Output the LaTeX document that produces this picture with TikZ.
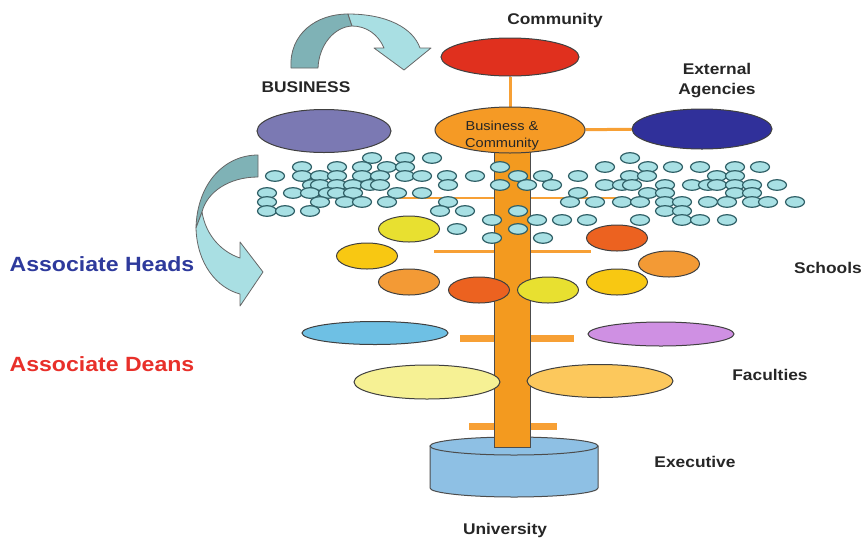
\documentclass[tikz,border=0pt]{standalone}
\usepackage{fontspec}
\setmainfont{Liberation Sans}[FakeStretch=1.12]
\usetikzlibrary{shapes.geometric,backgrounds}

\definecolor{commred}{HTML}{E0301E}
\definecolor{bcorange}{HTML}{F59A25}
\definecolor{extblue}{HTML}{30309A}
\definecolor{bizpurple}{HTML}{7B79B3}
\definecolor{trunkor}{HTML}{F39A1F}
\definecolor{branch}{HTML}{F7A035}
\definecolor{univblue}{HTML}{8EC0E4}
\definecolor{budcyan}{HTML}{A8E0E4}
\definecolor{budedge}{HTML}{2F5F66}
\definecolor{arrdark}{HTML}{7FB2B6}
\definecolor{arrlight}{HTML}{A9DFE3}
\definecolor{facblue}{HTML}{6EC0E4}
\definecolor{facpurple}{HTML}{CF90E3}
\definecolor{facyellow}{HTML}{F6F194}
\definecolor{facorange}{HTML}{FCC85C}
\definecolor{schyellow}{HTML}{E8E030}
\definecolor{schgold}{HTML}{F8C812}
\definecolor{schorange}{HTML}{F39A35}
\definecolor{schred}{HTML}{EC6220}
\definecolor{headblue}{HTML}{2E3A9C}
\definecolor{deanred}{HTML}{E8302A}

\tikzset{
  blob/.style={ellipse, draw=black!75, line width=1pt, inner sep=0pt},
  school/.style={blob, minimum width=61pt, minimum height=26pt},
  faculty/.style={blob, minimum width=146pt},
  bud/.style={fill=budcyan, draw=budedge, line width=1.2pt},
  twig/.style={draw=branch, line width=#1},
  ribbon/.style={draw=black!60, line width=0.8pt, line join=round},
  lbl/.style={font=\bfseries\fontsize{15.5}{20}\selectfont, text=black!85, inner sep=0pt},
  role/.style={font=\bfseries\fontsize{20.6}{24}\selectfont, inner sep=0pt},
}

\begin{document}
\begin{tikzpicture}[x=1pt,y=-1pt]
  \useasboundingbox (0,0) rectangle (865,539);

  % university base
  \draw[fill=univblue, draw=black!70, line width=1pt] (430,446) -- (430,488)
    .. controls (430,493) and (468,497) .. (514,497)
    .. controls (560,497) and (598,493) .. (598,488) -- (598,446) -- cycle;
  \draw[fill=univblue, draw=black!70, line width=1pt] (514,446) ellipse[x radius=84, y radius=9];

  % trunk
  \node[fill=trunkor, draw=black!70, line width=1pt, inner sep=0pt,
        minimum width=36pt, minimum height=297pt] (trunk) at (512,298.5) {};

  % top level
  \node[blob, fill=commred, minimum width=138pt, minimum height=38pt] (comm) at (510,57) {};
  \node[blob, fill=bcorange, minimum width=150pt, minimum height=46pt] (bizcomm) at (510,130) {};
  \node[font=\fontsize{13}{17}\selectfont, align=center, text=black!85] (bctext) at (502,136) {Business \&\\Community};
  \node[blob, fill=extblue, minimum width=140pt, minimum height=40pt] (ext) at (702,129) {};
  \node[blob, fill=bizpurple, minimum width=134pt, minimum height=43pt] (biz) at (324,131) {};

  \begin{pgfonlayer}{background}
    \draw[twig=3pt] (comm) -- (bizcomm);
    \draw[twig=3pt] (bizcomm) -- (ext);
    \draw[twig=1.5pt] (397,198) -- (627,198);
    \draw[twig=3pt] (434,251) -- (591,251);
    \draw[twig=7pt] (460,338) -- (574,338);
    \draw[twig=7pt] (469,426) -- (557,426);
  \end{pgfonlayer}

  % buds
  \foreach \y/\xs in {158/{372,405,432,630},
      167/{302,337,362,387,405,500,605,648,673,700,735,760},
      176/{275,302,320,337,362,380,405,422,447,475,518,543,578,630,647,717,735},
      185/{312,320,337,353,370,380,448,500,527,552,605,622,632,665,692,708,717,735,752,777},
      193/{267,293,310,328,337,353,397,422,578,648,665,735,752},
      202/{267,320,345,362,387,448,570,595,622,640,665,682,708,727,752,768,795},
      211/{267,285,310,440,465,518,665,682},
      220/{492,537,562,587,640,682,700,727},
      229/{457,518},
      238/{492,543}}
    \foreach \x in \xs
      \draw[bud] (\x,\y) ellipse[x radius=9.5, y radius=5.3];

  % schools
  \node[school, fill=schyellow] (s1) at (409,229) {};
  \node[school, fill=schgold]   (s2) at (367,256) {};
  \node[school, fill=schorange] (s3) at (409,282) {};
  \node[school, fill=schred]    (s4) at (479,290) {};
  \node[school, fill=schyellow] (s5) at (548,290) {};
  \node[school, fill=schgold]   (s6) at (617,282) {};
  \node[school, fill=schorange] (s7) at (669,264) {};
  \node[school, fill=schred]    (s8) at (617,238) {};

  % faculties
  \node[faculty, fill=facblue, minimum height=23pt]   (f1) at (375,333) {};
  \node[faculty, fill=facpurple, minimum height=24pt] (f2) at (661,334) {};
  \node[faculty, fill=facyellow, minimum height=34pt] (f3) at (427,382) {};
  \node[faculty, fill=facorange, minimum height=33pt] (f4) at (600,381) {};

  % curved arrows
  \draw[ribbon, fill=arrdark] (291,68) .. controls (289,34) and (316,14) .. (348,14)
    -- (352,26) .. controls (334,27) and (319,45) .. (318,68) -- cycle;
  \draw[ribbon, fill=arrlight] (348,14) .. controls (387,14) and (413,28) .. (420,48)
    -- (431,48) -- (404,70) -- (374,48) -- (384,48)
    .. controls (378,34) and (366,26) .. (352,26) -- cycle;
  \draw[ribbon, fill=arrdark] (258,155) .. controls (224,155) and (197,184) .. (196,228)
    -- (202,212) .. controls (207,192) and (229,177) .. (258,177) -- cycle;
  \draw[ribbon, fill=arrlight] (196,228) .. controls (197,264) and (217,288) .. (240,294)
    -- (240,306) -- (263,272) -- (240,242) -- (240,258)
    .. controls (222,252) and (206,236) .. (202,212) -- cycle;

  % labels
  \node[lbl] (commlbl) at (555,20) {Community};
  \node[lbl] (bizlbl) at (306,87) {BUSINESS};
  \node[lbl, align=center] (extlbl) at (717,81) {External\\Agencies};
  \node[lbl] (schlbl) at (828,268) {Schools};
  \node[lbl] (faclbl) at (770,375) {Faculties};
  \node[lbl] (execlbl) at (695,462) {Executive};
  \node[lbl] (unilbl) at (505,530) {University};
  \node[role, text=headblue] (headlbl) at (102,264) {Associate Heads};
  \node[role, text=deanred] (deanlbl) at (102,364) {Associate Deans};
\end{tikzpicture}
\end{document}
